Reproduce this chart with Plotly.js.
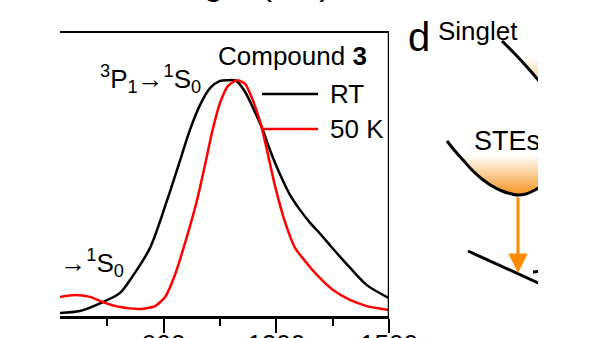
<!DOCTYPE html>
<html>
<head>
<meta charset="utf-8">
<script src="https://cdn.plot.ly/plotly-3.0.1.min.js"></script>
<style>html,body{margin:0;padding:0;background:#fff;}#chart{width:600px;height:338px;}</style>
</head>
<body>
<div id="chart"></div>
<script>
// ---- Spectral data (wavelength in nm, normalized intensity) ----
const wavelengthRT = [624, 677, 738, 784, 818, 864, 909, 944, 970, 997, 1024, 1050, 1071, 1093, 1117, 1143, 1162, 1183, 1210, 1236, 1263, 1290, 1316, 1351, 1396, 1441, 1500];
const intensityRT  = [0.013, 0.021, 0.059, 0.098, 0.17, 0.29, 0.49, 0.661, 0.789, 0.895, 0.967, 0.997, 1.0, 0.997, 0.95, 0.865, 0.797, 0.704, 0.60, 0.515, 0.45, 0.395, 0.35, 0.285, 0.205, 0.131, 0.076];
const wavelength50K = [624, 664, 704, 738, 784, 837, 877, 904, 930, 957, 989, 1010, 1029, 1050, 1071, 1095, 1117, 1135, 1157, 1178, 1196, 1223, 1250, 1263, 1308, 1351, 1396, 1441, 1500];
const intensity50K  = [0.081, 0.089, 0.081, 0.059, 0.038, 0.030, 0.042, 0.081, 0.174, 0.31, 0.492, 0.64, 0.78, 0.903, 0.975, 1.0, 0.984, 0.924, 0.823, 0.683, 0.555, 0.399, 0.288, 0.26, 0.174, 0.110, 0.068, 0.042, 0.025];
const seriesNames = ["RT", "50 K"];
const xTickVals = [900, 1200, 1500];
const xTickText = ["900", "1200", "1500"];

// ---- Schematic (panel d) outline points, in schematic units ----
const steCurveX = [447, 455, 463, 472, 482, 492, 502, 512, 518, 526, 533, 545];
const steCurveY = [141, 151, 160, 170, 179, 186, 191, 194, 195, 194, 191, 184];
const steFillX = [457, 463, 472, 482, 492, 502, 512, 518, 526, 533, 545, 545, 457];
const steFillY = [155, 160, 170, 179, 186, 191, 194, 195, 194, 191, 184, 155, 155];
const singletX = [502, 515, 527, 545];
const singletY = [41, 54, 67, 88];
const singletFillX = [517, 527, 545, 545, 517];
const singletFillY = [57, 67, 88, 57, 57];
const groundX = [468, 545];
const groundY = [251, 286];
const dashX = [533, 545];
const dashY = [272, 271];

const FONT = "Liberation Sans, Arial, Helvetica, sans-serif";
const ORANGE = "#ff8a00";
const W = 600, H = 338, ML = 60, MR = 62, MT = 33, MB = 22;
const PW = W - ML - MR, PH = H - MT - MB;
const px = v => (v - ML) / PW;
const py = v => (H - MB - v) / PH;

const traces = [
  {x: wavelengthRT, y: intensityRT, name: seriesNames[0], mode: "lines",
   line: {color: "#000000", width: 2.5, shape: "spline", smoothing: 0.8}, xaxis: "x", yaxis: "y"},
  {x: wavelength50K, y: intensity50K, name: seriesNames[1], mode: "lines",
   line: {color: "#ff0000", width: 2.5, shape: "spline", smoothing: 0.6}, xaxis: "x", yaxis: "y"},
  // clipped transition label at left edge
  {x: [794], y: [0.216], mode: "text", text: ["<sup>1</sup>P<sub>1</sub>→<sup>1</sup>S<sub>0</sub>"],
   textposition: "middle left", textfont: {family: FONT, size: 26, color: "#000"},
   cliponaxis: true, xaxis: "x", yaxis: "y", hoverinfo: "skip"},
  // schematic fills
  {x: steFillX, y: steFillY, mode: "lines", fill: "toself", line: {width: 0, color: "rgba(0,0,0,0)"},
   fillgradient: {type: "vertical", start: 155, stop: 196, colorscale: [[0, "rgba(255,255,255,1)"], [1, "#f7901a"]]},
   xaxis: "x2", yaxis: "y2", hoverinfo: "skip"},
  {x: singletFillX, y: singletFillY, mode: "lines", fill: "toself", line: {width: 0, color: "rgba(0,0,0,0)"},
   fillgradient: {type: "vertical", start: 57, stop: 95, colorscale: [[0, "rgba(255,255,255,1)"], [1, "#fbb060"]]},
   xaxis: "x2", yaxis: "y2", hoverinfo: "skip"},
  {x: steCurveX, y: steCurveY, mode: "lines", line: {color: "#000", width: 3, shape: "spline"}, xaxis: "x2", yaxis: "y2"},
  {x: singletX, y: singletY, mode: "lines", line: {color: "#000", width: 3, shape: "spline"}, xaxis: "x2", yaxis: "y2"},
  {x: groundX, y: groundY, mode: "lines", line: {color: "#000", width: 3}, xaxis: "x2", yaxis: "y2"},
  {x: dashX, y: dashY, mode: "lines", line: {color: "#000", width: 3}, xaxis: "x2", yaxis: "y2"},
  {x: [474], y: [143], mode: "text", text: ["STEs"], textposition: "middle right",
   textfont: {family: FONT, size: 27, color: "#000"}, cliponaxis: true, xaxis: "x2", yaxis: "y2", hoverinfo: "skip"}
];

const ann = (text, x, y, size, xanchor, extra) => Object.assign({
  text: text, xref: "paper", yref: "paper", x: px(x), y: py(y), xanchor: xanchor || "left", yanchor: "middle",
  showarrow: false, font: {family: FONT, size: size, color: "#000"}
}, extra || {});

const layout = {
  width: W, height: H,
  margin: {l: ML, r: MR, t: MT, b: MB, pad: 0},
  paper_bgcolor: "#fff", plot_bgcolor: "rgba(0,0,0,0)",
  showlegend: false,
  font: {family: FONT, size: 26, color: "#000"},
  xaxis: {domain: [0, (389 - ML) / PW], range: [624, 1500], showline: true, linecolor: "#000", linewidth: 2.5,
          mirror: true, ticks: "outside", ticklen: 14, tickwidth: 2, tickcolor: "#000", ticklabelstandoff: -11,
          tickvals: xTickVals, ticktext: xTickText, tickfont: {family: FONT, size: 26, color: "#000"},
          minor: {tickvals: [750, 1050, 1350], ticks: "outside", ticklen: 7, tickwidth: 2, tickcolor: "#000"},
          showgrid: false, zeroline: false, fixedrange: true},
  yaxis: {domain: [0, 1], range: [0, 1.2], visible: false, fixedrange: true},
  xaxis2: {domain: [px(400), 1], range: [400, 538], visible: false, anchor: "y2"},
  yaxis2: {domain: [0, 1], range: [316, 33], visible: false, anchor: "x2"},
  shapes: [
    {type: "line", xref: "x", yref: "paper", x0: 1500, x1: 1500, y0: 0, y1: 1, line: {color: "#000", width: 2.5}},
    {type: "line", xref: "paper", yref: "paper", x0: px(262), x1: px(318), y0: py(94), y1: py(94), line: {color: "#000", width: 2.5}},
    {type: "line", xref: "paper", yref: "paper", x0: px(262), x1: px(318), y0: py(129), y1: py(129), line: {color: "#ff0000", width: 2.5}}
  ],
  annotations: [
    ann("Compound <b>3</b>", 216, 56, 26),
    ann(seriesNames[0], 328, 94, 26),
    ann(seriesNames[1], 328, 129, 26),
    ann("<sup>3</sup>P<sub>1</sub>→<sup>1</sup>S<sub>0</sub>", 98, 79, 26),
    ann("d", 406, 37, 40),
    ann("Singlet", 436, 31, 26),
    ann("Wavelength (nm)", 202, -17, 34, "center"),
    {xref: "x2", yref: "y2", axref: "x2", ayref: "y2", x: 518, y: 273, ax: 518, ay: 196, text: "",
     showarrow: true, arrowhead: 2, arrowsize: 1.3, arrowwidth: 3, arrowcolor: ORANGE}
  ]
};

Plotly.newPlot("chart", traces, layout, {staticPlot: true, displayModeBar: false});
</script>
</body>
</html>
